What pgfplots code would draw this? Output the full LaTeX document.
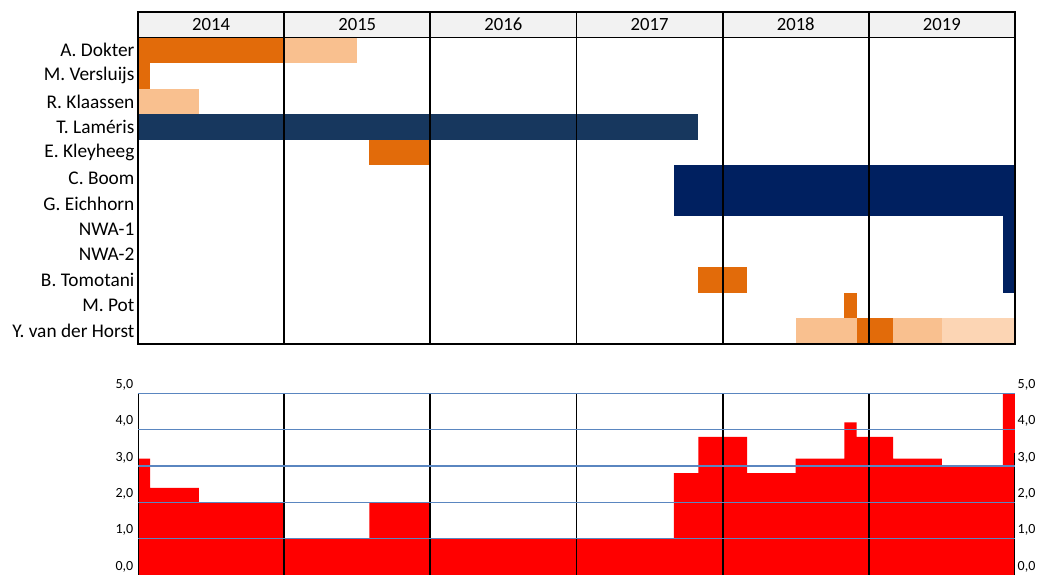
\documentclass[border=0pt]{standalone}
\usepackage{fontspec}
\setmainfont{Carlito}[Numbers={Lining,Monospaced}]
\usepackage{pgfplots}
\pgfplotsset{compat=1.18}
\definecolor{dorange}{HTML}{E26B0A}
\definecolor{lorange}{HTML}{F9C08F}
\definecolor{llorange}{HTML}{FCD5B4}
\definecolor{navy}{HTML}{002060}
\definecolor{lnavy}{HTML}{17375E}
\definecolor{hdr}{HTML}{F2F2F2}
\definecolor{gridblue}{HTML}{5A86C0}
% #1 colour, #2 start month, #3 end month, #4 top row, #5 bottom row
\newcommand{\gbar}[5]{\addplot[fill=#1,draw=none] coordinates {(#2,#4) (#3,#4) (#3,#5) (#2,#5)};}
\tikzset{yr/.style={font=\fontsize{14}{16}\selectfont, anchor=base, inner sep=0pt, yshift=-4.5pt}}
\begin{document}
\begin{tikzpicture}
\useasboundingbox (0,0) rectangle (782.25pt,431.25pt);
% ---------------- Gantt chart ----------------
\begin{axis}[
  at={(103.5pt,173.25pt)}, anchor=south west,
  scale only axis, width=657.75pt, height=249pt,
  xmin=0, xmax=72, ymin=-1, ymax=12, y dir=reverse,
  axis on top,
  axis line style={black, line width=1.3pt},
  xtick={12,24,36,48,60}, xticklabels={}, xmajorgrids,
  major grid style={black, line width=1.3pt},
  major tick length=0pt,
  ytick={0.5,1.5,...,11.5},
  yticklabels={A. Dokter, M. Versluijs, R. Klaassen, T. Laméris, E. Kleyheeg, C. Boom, G. Eichhorn, NWA-1, NWA-2, B. Tomotani, M. Pot, Y. van der Horst},
  yticklabel style={font=\fontsize{14.5}{16}\selectfont, inner sep=0pt, xshift=-2.5pt},
  extra y ticks={0}, extra y tick labels={}, extra y tick style={grid=major},
]
\gbar{hdr}{0}{72}{-1}{0}
\gbar{dorange}{0}{12}{0}{1}
\gbar{lorange}{12}{18}{0}{1}
\gbar{dorange}{0}{1}{1}{2}
\gbar{lorange}{0}{5}{2}{3}
\gbar{lnavy}{0}{46}{3}{4}
\gbar{dorange}{19}{24}{4}{5}
\gbar{navy}{44}{72}{5}{7}
\gbar{navy}{71}{72}{7}{10}
\gbar{dorange}{46}{50}{9}{10}
\gbar{dorange}{58}{59}{10}{11}
\gbar{lorange}{54}{59}{11}{12}
\gbar{dorange}{59}{62}{11}{12}
\gbar{lorange}{62}{66}{11}{12}
\gbar{llorange}{66}{72}{11}{12}
\node[yr] at (axis cs:6,-0.5) {2014};
\node[yr] at (axis cs:18,-0.5) {2015};
\node[yr] at (axis cs:30,-0.5) {2016};
\node[yr] at (axis cs:42,-0.5) {2017};
\node[yr] at (axis cs:54,-0.5) {2018};
\node[yr] at (axis cs:66,-0.5) {2019};
\end{axis}
% ---------------- bottom chart ----------------
\begin{axis}[
  at={(103.5pt,0pt)}, anchor=south west,
  scale only axis, width=657.75pt, height=136.3pt,
  xmin=0, xmax=72, ymin=0, ymax=5,
  axis line style={draw=none},
  xtick=\empty, ytick={0,1,2,3,4,5},
  major tick length=0pt,
  yticklabel style={font=\fontsize{10.5}{12}\selectfont, yshift=6.3pt},
  /pgf/number format/use comma,
  /pgf/number format/fixed,
  /pgf/number format/fixed zerofill,
  /pgf/number format/precision=1,
  /pgf/number format/assume math mode=true,
]
\addplot[const plot, fill=red, draw=none] coordinates {
 (0,3.2) (1,2.4) (5,2.0) (12,1.0) (19,2.0) (24,1.0) (44,2.8) (46,3.8)
 (50,2.8) (54,3.2) (58,4.2) (59,3.8) (62,3.2) (66,3.0) (71,5.0) (72,5.0)} \closedcycle;
\addplot[ycomb, black, line width=1.3pt, mark=none] coordinates {(0,5) (12,5) (24,5) (36,5) (48,5) (60,5)};
\addplot[black, line width=1.3pt] coordinates {(72,0) (72,3.36)};
\addplot[xcomb, gridblue, line width=1.2pt, mark=none] coordinates {(72,1) (72,2) (72,3) (72,4) (72,5)};
\end{axis}
\begin{axis}[
  at={(103.5pt,0pt)}, anchor=south west,
  scale only axis, width=657.75pt, height=136.3pt,
  xmin=0, xmax=72, ymin=0, ymax=5,
  axis line style={draw=none},
  xtick=\empty, ytick={0,1,2,3,4,5},
  yticklabel pos=right, ytick pos=right,
  major tick length=0pt,
  yticklabel style={font=\fontsize{10.5}{12}\selectfont, yshift=6.3pt, xshift=-1.5pt},
  /pgf/number format/use comma,
  /pgf/number format/fixed,
  /pgf/number format/fixed zerofill,
  /pgf/number format/precision=1,
  /pgf/number format/assume math mode=true,
]
\end{axis}
\end{tikzpicture}
\end{document}
